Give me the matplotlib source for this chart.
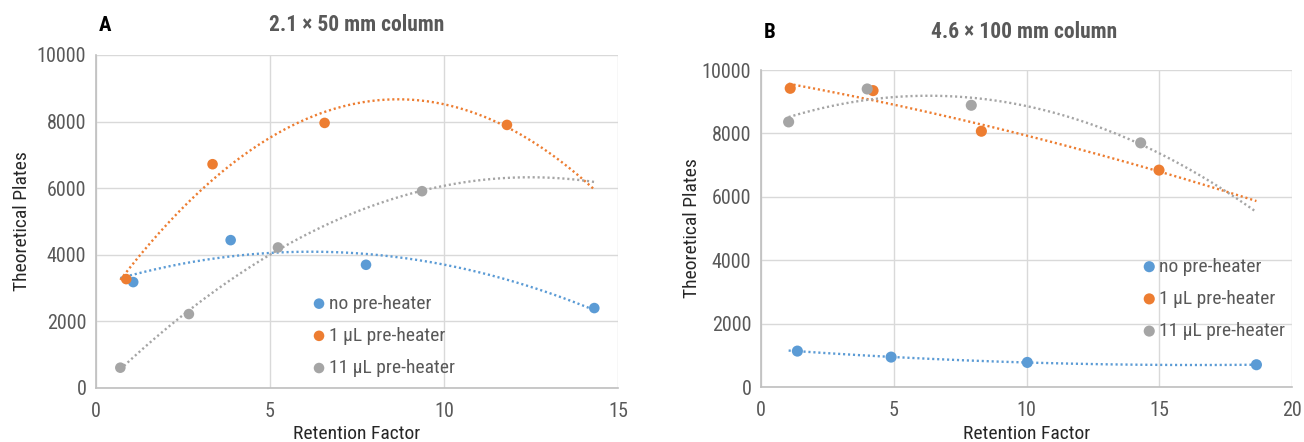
import matplotlib
matplotlib.use("Agg")
import matplotlib.pyplot as plt
import numpy as np

plt.rcParams['font.family'] = ['Roboto Condensed', 'DejaVu Sans']

labels = ["no pre-heater", "1 µL pre-heater", "11 µL pre-heater"]
colors = ["#5b9bd5", "#ed7d31", "#a5a5a5"]

# panel A: 2.1 x 50 mm column
a_x = [[1.07, 3.87, 7.76, 14.32],
       [0.87, 3.35, 6.57, 11.81],
       [0.70, 2.67, 5.23, 9.37]]
a_y = [[3180, 4440, 3700, 2400],
       [3270, 6720, 7960, 7900],
       [610, 2220, 4220, 5910]]

# panel B: 4.6 x 100 mm column
b_x = [[1.37, 4.90, 10.03, 18.66],
       [1.10, 4.22, 8.30, 14.99],
       [1.04, 4.00, 7.92, 14.30]]
b_y = [[1133, 944, 776, 703],
       [9423, 9350, 8069, 6842],
       [8363, 9402, 8888, 7702]]

fig = plt.figure(figsize=(13.04, 4.42), dpi=100)
axA = fig.add_axes([0.0736, 0.1222, 0.4003, 0.7534])
axB = fig.add_axes([0.5836, 0.1244, 0.4072, 0.7172])


def draw(ax, xs, ys, xmax, msize, leg_anchor, ylab_x, xlab_y):
    lo = min(min(x) for x in xs)
    hi = max(max(x) for x in xs)
    xx = np.linspace(lo, hi, 200)
    handles = []
    for x, y, c, lab in zip(xs, ys, colors, labels):
        # excel-style 2nd order trendline
        p = np.polyfit(x, y, 2)
        ax.plot(xx, np.polyval(p, xx), color=c, lw=1.7, ls=(0, (0.9, 1.2)), zorder=2)
        h = ax.scatter(x, y, s=msize, color=c, zorder=3, label=lab, edgecolors='none')
        handles.append(h)
    ax.set_xlim(0, xmax)
    ax.set_ylim(0, 10000)
    ax.set_xticks(np.arange(0, xmax + 1, 5))
    ax.set_yticks(np.arange(0, 10001, 2000))
    ax.grid(True, color="#d9d9d9", lw=1)
    ax.set_axisbelow(True)
    for s in ["top", "right"]:
        ax.spines[s].set_visible(False)
    for s in ["left", "bottom"]:
        ax.spines[s].set_color("#bfbfbf")
        ax.spines[s].set_linewidth(1.2)
    ax.tick_params(length=0, labelsize=14.5, colors="#595959")
    ax.tick_params(axis="x", pad=10)
    ax.tick_params(axis="y", pad=7)
    ax.set_xlabel("Retention Factor", fontsize=14, color="#262626")
    ax.set_ylabel("Theoretical Plates", fontsize=14, color="#262626")
    ax.xaxis.set_label_coords(0.5, xlab_y)
    ax.yaxis.set_label_coords(ylab_x, 0.5)
    ax.legend(handles=handles, loc="upper left", bbox_to_anchor=leg_anchor,
              frameon=False, fontsize=14, handletextpad=0.25, labelspacing=0.73,
              borderaxespad=0, borderpad=0, handlelength=0.5,
              labelcolor="#595959")


draw(axA, a_x, a_y, 15, 58, (0.418, 0.280), -0.1245, -0.112)
draw(axB, b_x, b_y, 20, 64, (0.722, 0.4076), -0.113, -0.121)

fig.text(0.0805, 0.9434, "A", fontsize=15, fontweight="bold", ha="center", va="center")
fig.text(0.2738, 0.9434, "2.1 × 50 mm column", fontsize=15.5, fontweight="bold",
         color="#595959", ha="center", va="center")
fig.text(0.5905, 0.9276, "B", fontsize=15, fontweight="bold", ha="center", va="center")
fig.text(0.7853, 0.9276, "4.6 × 100 mm column", fontsize=15.5, fontweight="bold",
         color="#595959", ha="center", va="center")

fig.savefig("out.png", dpi=100)
